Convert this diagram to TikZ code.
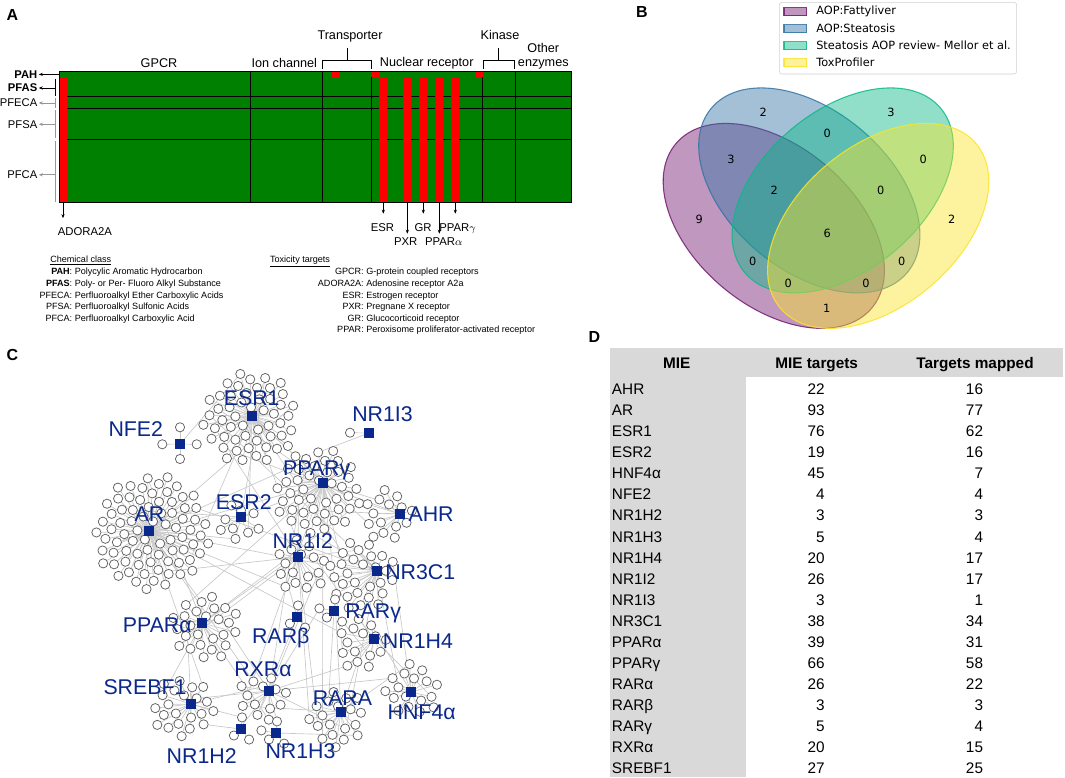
\documentclass[tikz,border=0pt]{standalone}
\usepackage{fontspec}
\setmainfont{Liberation Sans}
\newfontfamily\vennfont{DejaVu Sans}
\usetikzlibrary{arrows.meta,calc}
\definecolor{hmgreen} {RGB}{0,128,0}
\definecolor{hmred}   {RGB}{255,0,0}
\definecolor{brgray}  {RGB}{150,150,150}
\definecolor{vpur}    {RGB}{115,25,112}
\definecolor{vblu}    {RGB}{50,115,165}
\definecolor{vmint}   {RGB}{10,185,135}
\definecolor{vyel}    {RGB}{250,228,40}
\definecolor{hubblue} {RGB}{10,40,140}
\definecolor{tgtgray} {RGB}{95,95,95}
\definecolor{lnkgray} {RGB}{200,200,200}
\definecolor{tabgray} {RGB}{217,217,217}
\pgfdeclarelayer{lnks}
\pgfdeclarelayer{tgts}
\pgfsetlayers{lnks,tgts,main}

\begin{document}
\begin{tikzpicture}[x=0.75pt,y=-0.75pt,
    panel/.style={font=\bfseries\fontsize{12}{14}\selectfont,inner sep=0pt},
    hmline/.style={black,line width=0.6pt},
    collab/.style={font=\fontsize{9.5}{11}\selectfont,anchor=base,inner sep=0pt},
    rowlab/.style={font=\fontsize{8.4}{9}\selectfont,anchor=east,inner sep=0pt},
    brk/.style={line width=0.6pt},
    hmarrow/.style={-{Stealth[length=3pt,width=2.4pt]},line width=0.5pt,shorten >=1pt},
    botlab/.style={font=\fontsize{8.5}{9}\selectfont,anchor=base,inner sep=0pt},
    legtxt/.style={font=\fontsize{6.8}{8}\selectfont,anchor=base west,inner sep=0pt},
    vset/.style={fill opacity=0.45,draw opacity=0.85,line width=0.8pt},
    vnum/.style={font=\vennfont\fontsize{8.5}{10}\selectfont,inner sep=0pt},
    vleg/.style={font=\vennfont\fontsize{8.5}{10}\selectfont,anchor=west,inner sep=0pt},
    tgt/.style={circle,draw=tgtgray,fill=white,line width=0.55pt,minimum size=6.9pt,inner sep=0pt},
    hub/.style={rectangle,fill=hubblue,minimum size=6.8pt,inner sep=0pt},
    hublab/.style={font=\fontsize{16}{18}\selectfont,text=hubblue,anchor=base,inner sep=0pt},
    lnk/.style={lnkgray,line width=0.5pt},
    tabtxt/.style={font=\fontsize{11.5}{13}\selectfont,inner sep=0pt},
    tabhead/.style={font=\bfseries\fontsize{11.5}{13}\selectfont,anchor=base,inner sep=0pt}
  ]
\useasboundingbox (0,0) rectangle (1065,778);

% ---------------- A: heat map
\node[panel] (pA) at (12.3,15.2) {A};
\fill[hmgreen] (59,71) rectangle (571,202);
\foreach \yy in {96,108.3,139.3}
  \draw[hmline] (59,\yy) -- (571,\yy);
\foreach \xx in {250.8,322.8,371,482.8,515.2}
  \draw[hmline] (\xx,71) -- (\xx,202);
\foreach \xa in {331,371,475}
  \fill[hmred] (\xa,71) rectangle ++(8,6.3);
\foreach \xa in {59.2,379.3,403.3,419.3,435.3,451.3}
  \fill[hmred] (\xa,77.3) rectangle ++(7.8,124.7);
\draw[hmline] (59,71) rectangle (571,202);

\node[collab] (gpcr) at (159,67)    {GPCR};
\node[collab] (ionc) at (284.3,67)  {Ion channel};
\node[collab] (trsp) at (350,39.5)  {Transporter};
\node[collab] (nucr) at (426.7,66.2){Nuclear receptor};
\node[collab] (kins) at (500,39.5)  {Kinase};
\node[collab] (oth1) at (543.3,52.2){Other};
\node[collab] (oth2) at (543.3,66.7){enzymes};
\draw[brk] (322.8,69) -- (322.8,60) -- (371,60) -- (371,69);
\draw[brk] (346.9,60) -- (346.9,47.5);
\draw[brk] (483.3,69) -- (483.3,60) -- (514.3,60) -- (514.3,69);
\draw[brk] (498.8,60) -- (498.8,47.5);

% chemical classes
\node[rowlab,font=\bfseries\fontsize{8.4}{9}\selectfont] (pah)  at (37.5,74.4)  {PAH};
\node[rowlab,font=\bfseries\fontsize{8.4}{9}\selectfont] (pfas) at (37.5,88)    {PFAS};
\node[rowlab] (pfeca) at (37.5,103)   {PFECA};
\node[rowlab] (pfsa)  at (37.5,124.3) {PFSA};
\node[rowlab] (pfca)  at (37.5,174.8) {PFCA};
\coordinate (pahB)  at (58.5,74.4);
\coordinate (pfasB) at (55,88);
\coordinate (pfecaB) at (55,103);
\coordinate (pfsaB) at (55,124.3);
\coordinate (pfcaB) at (55,174.8);
\draw[brk] (55,78.5) -- (55,95.5);
\draw[brk,brgray] (55,97.5) -- (55,107.5);
\draw[brk,brgray] (55,110) -- (55,138);
\draw[brk,brgray] (55,141) -- (55,202);
\draw[hmarrow] (pahB) -- (pah);
\draw[hmarrow] (pfasB) -- (pfas);
\draw[hmarrow,brgray] (pfecaB) -- (pfeca);
\draw[hmarrow,brgray] (pfsaB) -- (pfsa);
\draw[hmarrow,brgray] (pfcaB) -- (pfca);

% targets below
\foreach \xx/\ye in {63/219.5,383.3/215,407.3/235,423.3/215,439.3/235,455.3/215}
  \draw[hmarrow] (\xx,202) -- (\xx,\ye);
\node[botlab,anchor=base west] (adora) at (57.5,235.6) {ADORA2A};
\node[botlab] (esr)   at (382.5,231.3) {ESR};
\node[botlab] (gr)    at (423,231.3)   {GR};
\node[botlab] (pparg) at (457.5,231.3) {PPAR$\gamma$};
\node[botlab] (pxr)   at (405.7,245.7) {PXR};
\node[botlab] (ppara) at (443.8,245.7) {PPAR$\alpha$};

% legend of A
\node[legtxt] (chemhd) at (50,262.5)   {\underline{Chemical class}};
\node[legtxt] (chem1) at (72,274.8) {\llap{\textbf{PAH}:}\ Polycylic Aromatic Hydrocarbon};
\node[legtxt] (chem2) at (72,286.4) {\llap{\textbf{PFAS}:}\ Poly- or Per- Fluoro Alkyl Substance};
\node[legtxt] (chem3) at (72,298.0) {\llap{PFECA:}\ Perfluoroalkyl Ether Carboxylic Acids};
\node[legtxt] (chem4) at (72,309.6) {\llap{PFSA:}\ Perfluoroalkyl Sulfonic Acids};
\node[legtxt] (chem5) at (72,321.2) {\llap{PFCA:}\ Perfluoroalkyl Carboxylic Acid};
\node[legtxt] (toxhd) at (269.8,262.5) {\underline{Toxicity targets}};
\node[legtxt] (tox1) at (363.5,274.8) {\llap{GPCR:}\ G-protein coupled receptors};
\node[legtxt] (tox2) at (363.5,286.4) {\llap{ADORA2A:}\ Adenosine receptor A2a};
\node[legtxt] (tox3) at (363.5,298.0) {\llap{ESR:}\ Estrogen receptor};
\node[legtxt] (tox4) at (363.5,309.6) {\llap{PXR:}\ Pregnane X receptor};
\node[legtxt] (tox5) at (363.5,321.2) {\llap{GR:}\ Glucocorticoid receptor};
\node[legtxt] (tox6) at (363.5,332.8) {\llap{PPAR:}\ Peroxisome proliferator-activated receptor};

% ---------------- B: venn
\node[panel] (pB) at (642,11.7) {B};
\path[vset,fill=vpur,draw=vpur,rotate around={140:(773.8,225.9)}]
  (773.8,225.9) ellipse [x radius=95.9pt,y radius=59.9pt];
\path[vset,fill=vblu,draw=vblu,rotate around={140:(809.3,190.4)}]
  (809.3,190.4) ellipse [x radius=95.9pt,y radius=59.9pt];
\path[vset,fill=vmint,draw=vmint,rotate around={40:(842.7,190.4)}]
  (842.7,190.4) ellipse [x radius=95.9pt,y radius=59.9pt];
\path[vset,fill=vyel,draw=vyel,rotate around={40:(878.2,225.9)}]
  (878.2,225.9) ellipse [x radius=95.9pt,y radius=59.9pt];
\foreach \xx/\yy/\nn [count=\k] in {763.3/112.7/2,891/112.7/3,827.3/133.3/0,731/159/3,
    923.3/159/0,774.3/190.7/2,880.7/190.7/0,699.3/219/9,951.7/219/2,827.3/233/6,
    752.7/261.7/0,901.7/261.7/0,788.3/283.3/0,866/283.3/0,826.7/308.3/1}
  \node[vnum] (vn\k) at (\xx,\yy) {\nn};
\draw[draw=black!18,fill=white,rounded corners=2pt] (779.3,2.3) rectangle (1016.7,74);
\foreach \cc/\yy/\tx [count=\k] in {vpur/11.7/AOP:Fattyliver,vblu/28.7/AOP:Steatosis,
    vmint/45.7/Steatosis AOP review- Mellor et al.,vyel/62.7/ToxProfiler}{
  \path[vset,fill=\cc,draw=\cc] (784,\yy-4.2) rectangle (806.7,\yy+4.2);
  \node[vleg] (vl\k) at (816,\yy) {\tx};
}

% ---------------- C: network
\node[panel] (pC) at (12.5,355) {C};
\foreach \nm/\xx/\yy in {AR/149/531,ESR1/252/416,ESR2/241/517,NFE2/180/444,NR1I3/369/433,
    PPARg/323/483,AHR/400/514,NR1I2/298/557,NR3C1/377/571,PPARa/202/623,RARb/297/617,
    RARg/334/611,NR1H4/374/639,RXRa/269/691,SREBF1/191/704,RARA/341/712,HNF4a/411/692,
    NR1H2/241/729,NR1H3/276/733}
  \node[hub] (\nm) at (\xx,\yy) {};
\begin{pgfonlayer}{tgts}
\foreach \nm/\cx/\cy/\nn in {AR/152/533/78,ESR1/250/419/52,PPARg/318/492/44,ESR2/240/522/9,
    AHR/388/516/15,NR1I2/300/566/16,NR3C1/362/576/28,PPARa/205/628/26,RARb/297/617/3,
    RARg/334/611/4,NR1H4/362/645/15,RXRa/262/698/13,SREBF1/183/707/22,RARA/337/718/19,
    HNF4a/413/690/17,NR1H2/241/729/3,NR1H3/276/733/4}{
  \foreach \i in {1,...,\nn}{
    \pgfmathsetmacro{\rr}{6.5*sqrt(\i+1.2)}
    \node[tgt] (\nm-\i) at ($(\cx,\cy)+({\i*137.508}:\rr)$) {};
  }
}
\node[tgt] (NFE2-1) at (162.3,444.3) {};
\node[tgt] (NFE2-2) at (196.7,444.3) {};
\node[tgt] (NFE2-3) at (180,427.3) {};
\node[tgt] (NFE2-4) at (180,459) {};
\node[tgt] (NR1I3-1) at (350,432.7) {};
\end{pgfonlayer}
\begin{pgfonlayer}{lnks}
\foreach \nm/\nn in {AR/78,ESR1/52,PPARg/44,ESR2/9,AHR/15,NR1I2/16,NR3C1/28,PPARa/26,
    RARb/3,RARg/4,NR1H4/15,RXRa/13,SREBF1/22,RARA/19,HNF4a/17,NR1H2/3,NR1H3/4,NFE2/4,NR1I3/1}
  \foreach \i in {1,...,\nn}
    \draw[lnk] (\nm) -- (\nm-\i);
\foreach \aa/\bb in {RXRa/SREBF1-5,RXRa/RARA-3,RXRa/NR1H2-1,RXRa/NR1H3-2,RXRa/PPARa-10,
    RXRa/NR1I2-8,RXRa/HNF4a-12,RARA/NR1H4-6,RARA/RARg-2,NR1I2/AR-40,NR1I2/PPARg-20,
    NR1I2/ESR1-30,PPARg/AR-30,PPARg/ESR1-25,PPARg/AHR-5,PPARg/NR3C1-12,ESR2/AR-20,
    ESR2/ESR1-44,ESR2/PPARg-30,AR/PPARa-15,AR/ESR1-47,AR/NR3C1-25,PPARa/NR1I2-10,
    PPARa/SREBF1-12,NR3C1/PPARg-40,NR3C1/HNF4a-4,NR1H4/HNF4a-8,AHR/ESR1-35,
    SREBF1/NR1H2-2,HNF4a/NR1H4-10,NR1I3/PPARg-36,NFE2/ESR1-49,RARb/NR1I2-12,
    RARg/NR1H4-3,ESR1/NR1I2-15,AR/RXRa-7,AR/SREBF1-18,PPARg/RARA-14,NR1I2/RARA-9,
    ESR1/NR3C1-20,PPARa/RXRa-11,AR/NR1I2-14,AR/PPARg-33,AR/ESR2-6,AR/NR1H4-12,
    ESR1/PPARg-41,ESR1/AR-50,ESR1/ESR2-3,ESR1/AHR-9,PPARg/PPARa-20,PPARg/NR1H4-9,
    PPARg/RXRa-4,NR1I2/NR3C1-15,NR1I2/PPARa-22,NR1I2/RARA-17,NR3C1/AR-60,NR3C1/RARA-11,
    NR3C1/ESR1-38,RXRa/PPARg-28,RXRa/RARg-4,RXRa/NR1H4-14,RARA/RXRa-9,RARA/HNF4a-15,
    SREBF1/PPARa-20,SREBF1/RXRa-2,PPARa/AR-70,PPARa/PPARg-42,NR1H4/NR1I2-5,NR1H3/RARA-16,
    NR1H2/SREBF1-16,AHR/PPARg-22,HNF4a/NR3C1-26,RARg/RARA-7,RARb/RXRa-6}
  \draw[lnk] (\aa) -- (\bb);
\end{pgfonlayer}
\node[hublab] (lESR1)  at (251.7,405)   {ESR1};
\node[hublab] (lNFE2)  at (135.8,436.7) {NFE2};
\node[hublab] (lNR1I3) at (382.5,421.7) {NR1I3};
\node[hublab] (lPPARg) at (316.7,475)   {PPARγ};
\node[hublab] (lESR2)  at (243.8,509)   {ESR2};
\node[hublab] (lAR)    at (149.5,521.7) {AR};
\node[hublab,anchor=base west] (lAHR)   at (408.3,521.7) {AHR};
\node[hublab] (lNR1I2) at (302.8,548.3) {NR1I2};
\node[hublab,anchor=base west] (lNR3C1) at (385,579.3) {NR3C1};
\node[hublab,anchor=base east] (lPPARa) at (192,632.6) {PPARα};
\node[hublab] (lRARb)  at (280.8,643.5) {RARβ};
\node[hublab,anchor=base west] (lRARg)  at (345,618.3) {RARγ};
\node[hublab,anchor=base west] (lNR1H4) at (382.7,648.4) {NR1H4};
\node[hublab] (lRXRa)  at (263,676.7)   {RXRα};
\node[hublab] (lSREBF1) at (145,694.3)  {SREBF1};
\node[hublab] (lRARA)  at (342.5,705)   {RARA};
\node[hublab] (lHNF4a) at (421.7,719)   {HNF4α};
\node[hublab] (lNR1H2) at (201.7,763.3) {NR1H2};
\node[hublab] (lNR1H3) at (300.5,758.3) {NR1H3};

% ---------------- D: table
\node[panel] (pD) at (594.5,337) {D};
\fill[tabgray] (610,348.3) rectangle (1063.3,376.7);
\fill[tabgray] (610,376.7) rectangle (745.7,776.7);
\node[tabhead] (hMIE) at (676.7,368.8) {MIE};
\node[tabhead] (hTgt) at (816.7,368.8) {MIE targets};
\node[tabhead] (hMap) at (975,368.8)   {Targets mapped};
\foreach \nm/\aa/\bb [count=\k from 0] in {AHR/22/16,AR/93/77,ESR1/76/62,ESR2/19/16,
    HNF4α/45/7,NFE2/4/4,NR1H2/3/3,NR1H3/5/4,NR1H4/20/17,NR1I2/26/17,NR1I3/3/1,
    NR3C1/38/34,PPARα/39/31,PPARγ/66/58,RARα/26/22,RARβ/3/3,RARγ/5/4,RXRα/20/15,
    SREBF1/27/25}{
  \pgfmathsetmacro{\yy}{394.8+21.03*\k}
  \node[tabtxt,anchor=base west] (tn-\k) at (611.7,\yy) {\nm};
  \node[tabtxt,anchor=base east] (ta-\k) at (825,\yy)   {\aa};
  \node[tabtxt,anchor=base east] (tb-\k) at (983.3,\yy) {\bb};
}
\end{tikzpicture}
\end{document}
